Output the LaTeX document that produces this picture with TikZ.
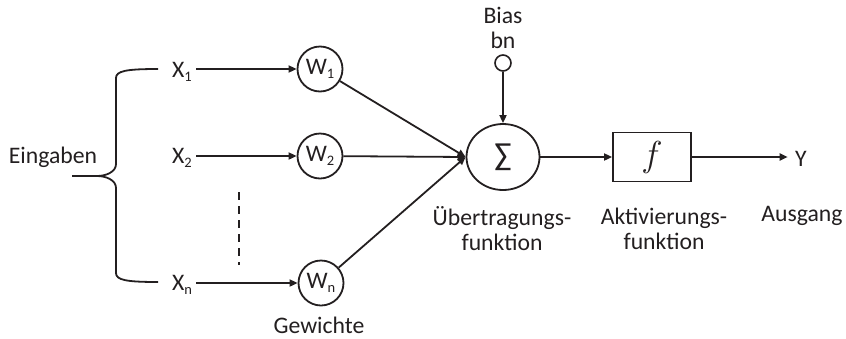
\documentclass[tikz,border=0pt]{standalone}
\usepackage{graphicx}
\usepackage{fontspec}
\setmainfont{Carlito}
\usetikzlibrary{arrows.meta,shapes.geometric}
% small lowered index used in the X and W labels
\newcommand{\idx}[1]{\raisebox{-4pt}{\fontsize{14.5}{14.5}\selectfont #1}}
\definecolor{ink}{HTML}{231F20}
\begin{document}
\begin{tikzpicture}[x=1pt,y=-1pt,
  every node/.style={font=\fontsize{23.7}{25}\selectfont, text=ink},
  wire/.style={line width=1.8pt, draw=ink},
  arr/.style={wire, -{Triangle[length=8pt,width=7pt]}},
  weight/.style={circle, draw=ink, line width=1.8pt, minimum size=45pt, inner sep=0pt},
  inp/.style={anchor=base, inner sep=4pt},
  lbl/.style={align=center, inner sep=0pt}
]
\useasboundingbox (0,0) rectangle (846,338);

% inputs
\node (eing) at (53,157) {Eingaben};
\node[inp] (x1) at (182,77) {X\idx{1}};
\node[inp] (x2) at (182,163) {X\idx{2}};
\node[inp] (xn) at (182,290) {X\idx{n}};

% curly brace grouping the inputs
\draw[wire] (158,69) .. controls (126,69) and (116,71) .. (116,78)
  -- (116,164) .. controls (116,172) and (106,176) .. (97,176) -- (72,176);
\draw[wire] (158,282) .. controls (126,282) and (116,280) .. (116,273)
  -- (116,188) .. controls (116,180) and (106,176) .. (97,176);

% further inputs omitted
\draw[wire, dash pattern=on 8pt off 6pt] (239,192) -- (239,265);

% weights
\node[weight] (w1) at (320,69) {W\idx{1}};
\node[weight] (w2) at (320,156) {W\idx{2}};
\node[weight] (wn) at (321,283) {W\idx{n}};
\node (gew) at (319,325) {Gewichte};

% summation and bias
\node[ellipse, draw=ink, line width=1.8pt, minimum width=73pt, minimum height=66pt, inner sep=0pt]
  (sum) at (503,157) {\fontsize{32}{32}\selectfont ∑};
\node[circle, draw=ink, line width=1.6pt, minimum size=16pt, inner sep=0pt] (bias) at (503,63) {};
\node[lbl] (biastxt) at (503,28) {Bias\\bn};
\node[lbl] (uebtxt) at (502,229) {Übertragungs-\\funktion};

% activation
\node[rectangle, draw=ink, line width=1.8pt, minimum width=78pt, minimum height=49pt, inner sep=0pt]
  (act) at (652,157) {\scalebox{1.45}{\fontsize{24.88}{25}\selectfont$f$}};
\node[lbl] (acttxt) at (664,229) {Aktivierungs-\\funktion};

% output
\node (yout) at (801,159) {Y};
\node (ausg) at (802,216) {Ausgang};

% connectors
\draw[arr] (x1.east |- w1.west) -- (w1.west);
\draw[arr] (x2.east |- w2.west) -- (w2.west);
\draw[arr] (xn.east |- wn.west) -- (wn.west);
\draw[arr] (w1) -- (sum.west);
\draw[arr] (w2) -- (sum.west);
\draw[arr] (wn) -- (sum.west);
\draw[arr] (bias) -- (sum);
\draw[arr] (sum) -- (act);
\draw[arr] (act.east) -- ([xshift=-4pt]act.east -| yout.west);
\end{tikzpicture}
\end{document}
